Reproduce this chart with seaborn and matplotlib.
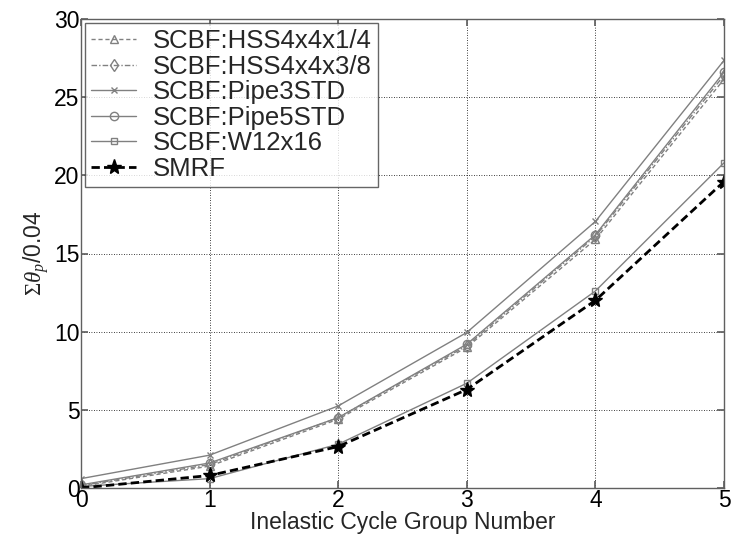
import matplotlib
matplotlib.use("Agg")
import matplotlib.pyplot as plt
import seaborn as sns
import pandas as pd

cycles = [0, 1, 2, 3, 4, 5]
series_names = ["SCBF:HSS4x4x1/4", "SCBF:HSS4x4x3/8", "SCBF:Pipe3STD",
                "SCBF:Pipe5STD", "SCBF:W12x16", "SMRF"]
hss_1_4 = [0.1, 1.4, 4.4, 9.0, 15.9, 26.15]
hss_3_8 = [0.15, 1.5, 4.5, 9.1, 16.1, 26.4]
pipe3 = [0.6, 2.1, 5.25, 9.95, 17.05, 27.35]
pipe5 = [0.2, 1.6, 4.5, 9.2, 16.2, 26.6]
w12 = [0.1, 0.6, 2.8, 6.7, 12.6, 20.8]
smrf = [0.0, 0.8, 2.65, 6.3, 12.0, 19.6]
values = [hss_1_4, hss_3_8, pipe3, pipe5, w12, smrf]

frames = [pd.DataFrame({"x": cycles, "y": v, "series": n}) for n, v in zip(series_names, values)]
df = pd.concat(frames, ignore_index=True)

sns.set_theme(style="white")
plt.rcParams['font.family'] = ['Liberation Sans', 'DejaVu Sans']
plt.rcParams['mathtext.fontset'] = 'custom'
plt.rcParams['mathtext.rm'] = 'Liberation Serif'
plt.rcParams['mathtext.it'] = 'Liberation Serif:italic'

fig = plt.figure(figsize=(7.32, 5.41), dpi=100)
ax = fig.add_axes([81/732, 1-488/541, (724-81)/732, (488-19)/541])

gray = "#808080"
styles = {
    "SCBF:HSS4x4x1/4": dict(color=gray, ls=(0, (3, 2)), marker="^", lw=1.0, ms=6),
    "SCBF:HSS4x4x3/8": dict(color=gray, ls=(0, (4, 1.5, 1, 1.5)), marker="d", lw=1.0, ms=6),
    "SCBF:Pipe3STD": dict(color=gray, ls="-", marker="x", lw=1.0, ms=5),
    "SCBF:Pipe5STD": dict(color=gray, ls="-", marker="o", lw=1.0, ms=6),
    "SCBF:W12x16": dict(color=gray, ls="-", marker="s", lw=1.0, ms=5),
    "SMRF": dict(color="black", ls=(0, (3, 1.5)), marker="*", lw=2.0, ms=11),
}
for name in series_names:
    st = styles[name]
    sub = df[df["series"] == name]
    sns.lineplot(data=sub, x="x", y="y", ax=ax, label=name, color=st["color"],
                 linestyle=st["ls"], marker=st["marker"], linewidth=st["lw"],
                 markersize=st["ms"], markerfacecolor="none" if name != "SMRF" else "black",
                 markeredgecolor=st["color"], markeredgewidth=1.0)

ax.set_xlim(0, 5)
ax.set_ylim(0, 30)
ax.set_xticks(cycles)
ax.set_yticks([0, 5, 10, 15, 20, 25, 30])
ax.grid(True, color="black", linestyle=(0, (1, 2)), linewidth=0.6)
for s in ax.spines.values():
    s.set_color("#606060")
    s.set_linewidth(1.0)
ax.tick_params(direction="in", length=5, labelsize=16.5, colors="#606060",
               labelcolor="black", top=True, right=True, bottom=True, left=True, pad=1)
ax.set_xlabel("Inelastic Cycle Group Number", fontsize=16.5, labelpad=-1)
ax.set_ylabel(r"$\Sigma\theta_p$/0.04", fontsize=16.5, labelpad=2)

leg = ax.legend(loc="upper left", fontsize=18.5, frameon=True, fancybox=False,
                edgecolor="#404040", borderaxespad=0.15, handlelength=1.75,
                labelspacing=0.06, borderpad=0.25, handletextpad=0.65)
leg.get_frame().set_linewidth(1.0)

fig.savefig("out.png", dpi=100)
